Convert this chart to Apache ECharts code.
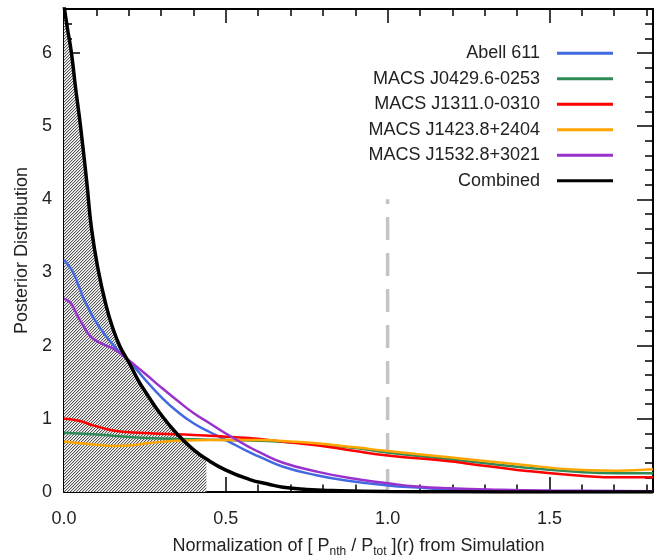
<!DOCTYPE html>
<html><head><meta charset="utf-8">
<script src="https://cdn.jsdelivr.net/npm/echarts@6/dist/echarts.min.js"></script>
<style>html,body{margin:0;padding:0;background:#fff}#c{width:663px;height:556px}</style>
</head><body><div id="c"></div>
<script>
// ---- data ----
const seriesNames = ['Abell 611', 'MACS J0429.6-0253', 'MACS J1311.0-0310', 'MACS J1423.8+2404', 'MACS J1532.8+3021', 'Combined'];

const abellX = [0, 0.01, 0.028, 0.045, 0.059, 0.075, 0.09, 0.11, 0.131, 0.15, 0.172, 0.203, 0.25, 0.30, 0.35, 0.40, 0.45, 0.50, 0.574, 0.605, 0.677, 0.78, 0.883, 1.0, 1.09, 1.19, 1.35, 1.5, 1.82];
const abellY = [3.17, 3.12, 3.0, 2.82, 2.66, 2.52, 2.39, 2.25, 2.12, 2.02, 1.91, 1.78, 1.54, 1.30, 1.10, 0.94, 0.82, 0.71, 0.54, 0.48, 0.345, 0.23, 0.15, 0.09, 0.06, 0.035, 0.02, 0.01, 0.005];

const m0429X = [0, 0.09, 0.193, 0.296, 0.40, 0.50, 0.605, 0.70, 0.78, 0.90, 1.0, 1.19, 1.40, 1.605, 1.71, 1.82];
const m0429Y = [0.81, 0.79, 0.755, 0.73, 0.72, 0.71, 0.70, 0.68, 0.655, 0.60, 0.54, 0.45, 0.345, 0.27, 0.255, 0.255];

const m1311X = [0, 0.025, 0.049, 0.07, 0.09, 0.115, 0.141, 0.17, 0.193, 0.25, 0.296, 0.40, 0.50, 0.605, 0.70, 0.78, 0.90, 1.0, 1.19, 1.244, 1.40, 1.45, 1.605, 1.71, 1.82];
const m1311Y = [1.0, 0.99, 0.97, 0.94, 0.91, 0.88, 0.85, 0.83, 0.82, 0.805, 0.795, 0.78, 0.755, 0.725, 0.675, 0.64, 0.56, 0.50, 0.42, 0.39, 0.30, 0.28, 0.22, 0.20, 0.20];

const m1423X = [0, 0.069, 0.152, 0.20, 0.245, 0.30, 0.348, 0.45, 0.605, 0.70, 0.78, 0.90, 1.0, 1.19, 1.40, 1.605, 1.71, 1.82];
const m1423Y = [0.69, 0.66, 0.63, 0.635, 0.66, 0.685, 0.70, 0.71, 0.71, 0.69, 0.665, 0.61, 0.56, 0.475, 0.38, 0.30, 0.29, 0.31];

const m1532X = [0, 0.01, 0.023, 0.035, 0.049, 0.065, 0.079, 0.095, 0.11, 0.13, 0.152, 0.175, 0.203, 0.25, 0.30, 0.35, 0.40, 0.45, 0.50, 0.574, 0.605, 0.677, 0.78, 0.883, 1.0, 1.09, 1.19, 1.35, 1.5, 1.82];
const m1532Y = [2.64, 2.62, 2.57, 2.47, 2.35, 2.23, 2.14, 2.08, 2.04, 2.0, 1.96, 1.89, 1.79, 1.62, 1.43, 1.25, 1.08, 0.94, 0.80, 0.61, 0.54, 0.40, 0.28, 0.19, 0.12, 0.075, 0.05, 0.03, 0.02, 0.01];

const combX = [0, 0.01, 0.023, 0.035, 0.051, 0.07, 0.085, 0.105, 0.13, 0.15, 0.172, 0.203, 0.229, 0.25, 0.296, 0.348, 0.40, 0.44, 0.50, 0.574, 0.63, 0.677, 0.75, 0.83, 1.0, 1.2, 1.5, 1.82];
const combY = [6.65, 6.35, 6.0, 5.55, 5.0, 4.25, 3.6, 3.05, 2.55, 2.25, 2.0, 1.75, 1.53, 1.38, 1.08, 0.80, 0.58, 0.45, 0.30, 0.17, 0.11, 0.065, 0.035, 0.02, 0.006, 0.002, 0.0, 0.0];

const hatchLimit = 0.44;          // hatched region of the combined posterior: x <= 0.44
const refLineX = [1.0, 1.0];      // vertical dashed reference at 1.0
const refLineY = [0, 4];

const xRange = [0, 1.82];
const yRange = [0, 6.6];

// ---- build ----
const zip = (xs, ys) => xs.map((x, i) => [x, ys[i]]);
const colors = ['#4169e1', '#2e8b57', '#ff0000', '#ffa500', '#9932cc', '#000000'];
const seriesData = [zip(abellX, abellY), zip(m0429X, m0429Y), zip(m1311X, m1311Y), zip(m1423X, m1423Y), zip(m1532X, m1532Y), zip(combX, combY)];
const hatchData = zip(combX, combY).filter(p => p[0] <= hatchLimit);

function makeHatch() {
  const n = 3;
  const c = document.createElement('canvas');
  c.width = n; c.height = n;
  const ctx = c.getContext('2d');
  const img = ctx.createImageData(n, n);
  const shades = [85, 205, 255];
  for (let y = 0; y < n; y++) for (let x = 0; x < n; x++) {
    const v = shades[(x + y) % n];
    const o = (y * n + x) * 4;
    img.data[o] = v; img.data[o + 1] = v; img.data[o + 2] = v; img.data[o + 3] = 255;
  }
  ctx.putImageData(img, 0, 0);
  return c;
}

const FONT = '"Liberation Sans", Arial, Helvetica, sans-serif';
const txt = '#222';

const baseX = {
  type: 'value', min: xRange[0], max: xRange[1], interval: 0.5,
  axisLine: { show: true, onZero: false, lineStyle: { color: '#000', width: 2 } },
  axisTick: { show: true, inside: true, length: 15, lineStyle: { color: '#000', width: 1.5 } },
  minorTick: { show: true, splitNumber: 5, length: 7.5, lineStyle: { color: '#000', width: 1.5 } },
  splitLine: { show: false }, minorSplitLine: { show: false }
};
const baseY = {
  type: 'value', min: yRange[0], max: yRange[1], interval: 1,
  axisLine: { show: true, onZero: false, lineStyle: { color: '#000', width: 2 } },
  axisTick: { show: true, inside: true, length: 16, lineStyle: { color: '#000', width: 1.5 } },
  minorTick: { show: true, splitNumber: 5, length: 8, lineStyle: { color: '#000', width: 1.5 } },
  splitLine: { show: false }, minorSplitLine: { show: false }
};

const series = [];
series.push({
  name: 'hatch', type: 'line', data: hatchData, showSymbol: false, symbol: 'none', smooth: 0.5,
  lineStyle: { width: 0 }, areaStyle: { color: { image: makeHatch(), repeat: 'repeat' }, opacity: 1 },
  z: 1, silent: true, clip: true
});
series.push({
  name: 'ref', type: 'line', data: zip(refLineX, refLineY), symbol: 'none',
  lineStyle: { color: '#c4c4c4', width: 3.5, type: [23, 13] }, z: 2, silent: true
});
seriesNames.forEach((nm, i) => {
  series.push({
    name: nm, type: 'line', data: seriesData[i], symbol: 'none', showSymbol: false,
    smooth: 0.5, clip: true,
    lineStyle: { color: colors[i], width: i === 5 ? 3.5 : 2.5 },
    itemStyle: { color: colors[i] },
    z: 3 + i
  });
});

const chart = echarts.init(document.getElementById('c'), null, { renderer: 'canvas' });
chart.setOption({
  animation: false,
  backgroundColor: '#fff',
  textStyle: { fontFamily: FONT },
  grid: { left: 64, right: 10, top: 9, bottom: 64, containLabel: false, outerBoundsMode: 'none' },
  legend: {
    data: seriesNames, orient: 'vertical', align: 'right', right: 50, top: 40.5, padding: 0,
    itemGap: 0, itemWidth: 56, itemHeight: 3, icon: 'rect', selectedMode: false,
    textStyle: { fontSize: 18, color: txt, fontFamily: FONT, lineHeight: 25.5, padding: [0, 12, 0, 0] }
  },
  xAxis: [
    Object.assign({}, baseX, {
      position: 'bottom',
      axisLabel: { show: true, fontSize: 18, color: txt, fontFamily: FONT, margin: 18, showMaxLabel: false,
        formatter: v => v.toFixed(1) },
      name: '{n|Normalization of [ P}{s|nth}{n| / P}{s|tot}{n| ](r) from Simulation}',
      nameLocation: 'middle', nameGap: 42,
      nameTextStyle: { fontFamily: FONT, color: txt, rich: {
        n: { fontSize: 18, lineHeight: 24, color: txt, fontFamily: FONT },
        s: { fontSize: 12, lineHeight: 12, verticalAlign: 'bottom', color: txt, fontFamily: FONT }
      } }
    }),
    Object.assign({}, baseX, { position: 'top', axisLabel: { show: false }, axisTick: Object.assign({}, baseX.axisTick, { length: 14 }), minorTick: Object.assign({}, baseX.minorTick, { length: 7 }) })
  ],
  yAxis: [
    Object.assign({}, baseY, {
      position: 'left',
      axisLabel: { show: true, fontSize: 18, color: txt, fontFamily: FONT, margin: 12, showMaxLabel: false },
      name: 'Posterior Distribution', nameLocation: 'middle', nameGap: 33,
      nameTextStyle: { fontSize: 18, color: txt, fontFamily: FONT }
    }),
    Object.assign({}, baseY, { position: 'right', axisLabel: { show: false } })
  ],
  series: series
});
</script></body></html>
